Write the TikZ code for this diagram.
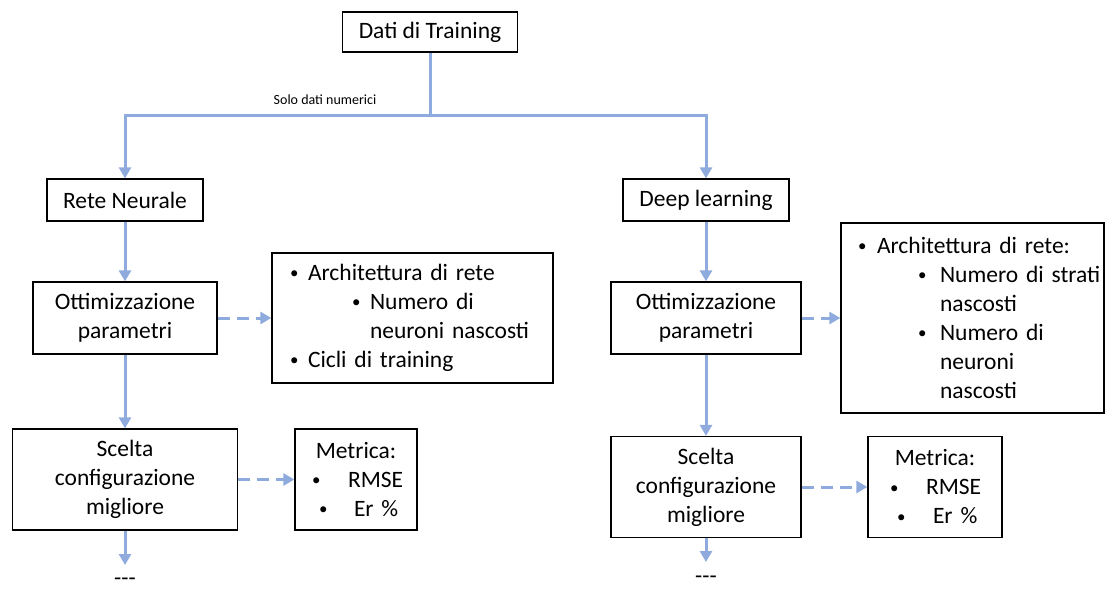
\documentclass[tikz,border=0pt]{standalone}
\usepackage{fontspec}
\setmainfont{Carlito}
\usetikzlibrary{arrows.meta}
\definecolor{linkblue}{HTML}{8FAADC}
% small list bullet
\newcommand{\lbul}{\raisebox{0.08em}{\scalebox{0.72}{\textbullet}}}
\begin{document}
\begin{tikzpicture}[x=1pt,y=-1pt,
  box/.style={draw=black,line width=1.3pt,inner sep=0pt,align=center,
    font=\fontsize{23.5}{29}\selectfont},
  listbox/.style={box,align=left,inner xsep=0pt},
  flowline/.style={draw=linkblue,line width=3pt},
  flow/.style={flowline,-{Triangle[length=11pt,width=12pt]}},
  dashflow/.style={flow,dash pattern=on 12pt off 7pt},
  note/.style={font=\fontsize{14}{17}\selectfont,inner sep=0pt},
  dashtext/.style={font=\fontsize{23.5}{29}\selectfont,inner sep=0pt,anchor=base}]
\useasboundingbox (0,0) rectangle (1106,590);

% main boxes
\node[box,minimum width=175,minimum height=40] (dati) at (430,32) {Dati di Training};
\node[box,minimum width=156,minimum height=42] (rete) at (125,200) {Rete Neurale};
\node[box,minimum width=166,minimum height=42] (deep) at (706,200) {Deep learning};
\node[box,minimum width=184,minimum height=72] (ottL) at (125,318) {Ottimizzazione\\parametri};
\node[box,minimum width=190,minimum height=72] (ottR) at (706,318) {Ottimizzazione\\parametri};
\node[box,minimum width=225,minimum height=101] (sceltaL) at (125,479.5) {Scelta\\configurazione\\migliore};
\node[box,minimum width=190,minimum height=101] (sceltaR) at (706,487) {Scelta\\configurazione\\migliore};

% parameter lists
\node[listbox,minimum width=281,minimum height=130,text width=281] (archL) at (412.5,318) {%
\hspace*{18pt}\makebox[18pt][l]{\lbul}Architettura di rete\\
\hspace*{80pt}\makebox[18pt][l]{\lbul}Numero di\\
\hspace*{98pt}neuroni nascosti\\
\hspace*{18pt}\makebox[18pt][l]{\lbul}Cicli di training};
\node[listbox,minimum width=263,minimum height=190,text width=263] (archR) at (972.5,318) {%
\hspace*{17pt}\makebox[19pt][l]{\lbul}Architettura di rete:\\
\hspace*{77pt}\makebox[22pt][l]{\lbul}Numero di strati\\
\hspace*{99pt}nascosti\\
\hspace*{77pt}\makebox[22pt][l]{\lbul}Numero di\\
\hspace*{99pt}neuroni\\
\hspace*{99pt}nascosti};

% metric boxes
\node[listbox,minimum width=122,minimum height=101,text width=122] (metL) at (356,479.5) {%
\makebox[122pt][c]{Metrica:}\\
\hspace*{17pt}\makebox[36pt][l]{\lbul}RMSE\\
\hspace*{24pt}\makebox[35pt][l]{\lbul}Er \%};
\node[listbox,minimum width=134,minimum height=101,text width=134] (metR) at (935,487) {%
\makebox[134pt][c]{Metrica:}\\
\hspace*{22pt}\makebox[36pt][l]{\lbul}RMSE\\
\hspace*{29pt}\makebox[36pt][l]{\lbul}Er \%};

% split of the training data
\coordinate (split) at (430,115);
\node[note] (solo) at (325,100) {Solo dati numerici};
\draw[flowline] (dati.south) -- (split);
\draw[flow] (split) -| (rete.north);
\draw[flow] (split) -| (deep.north);

% left branch
\draw[flow] (rete) -- (ottL);
\draw[flow] (ottL) -- (sceltaL);
\coordinate (endL) at (125,565);
\draw[flow] (sceltaL.south) -- (endL);
\node[dashtext] (dotsL) at (125,585) {-\kern0pt-\kern0pt-};
\draw[dashflow] (ottL) -- (archL);
\draw[dashflow] (sceltaL) -- (metL);

% right branch
\draw[flow] (deep) -- (ottR);
\draw[flow] (ottR) -- (sceltaR);
\coordinate (endR) at (706,562);
\draw[flow] (sceltaR.south) -- (endR);
\node[dashtext] (dotsR) at (706,583) {-\kern0pt-\kern0pt-};
\draw[dashflow] (ottR) -- (archR);
\draw[dashflow] (sceltaR) -- (metR);
\end{tikzpicture}
\end{document}
